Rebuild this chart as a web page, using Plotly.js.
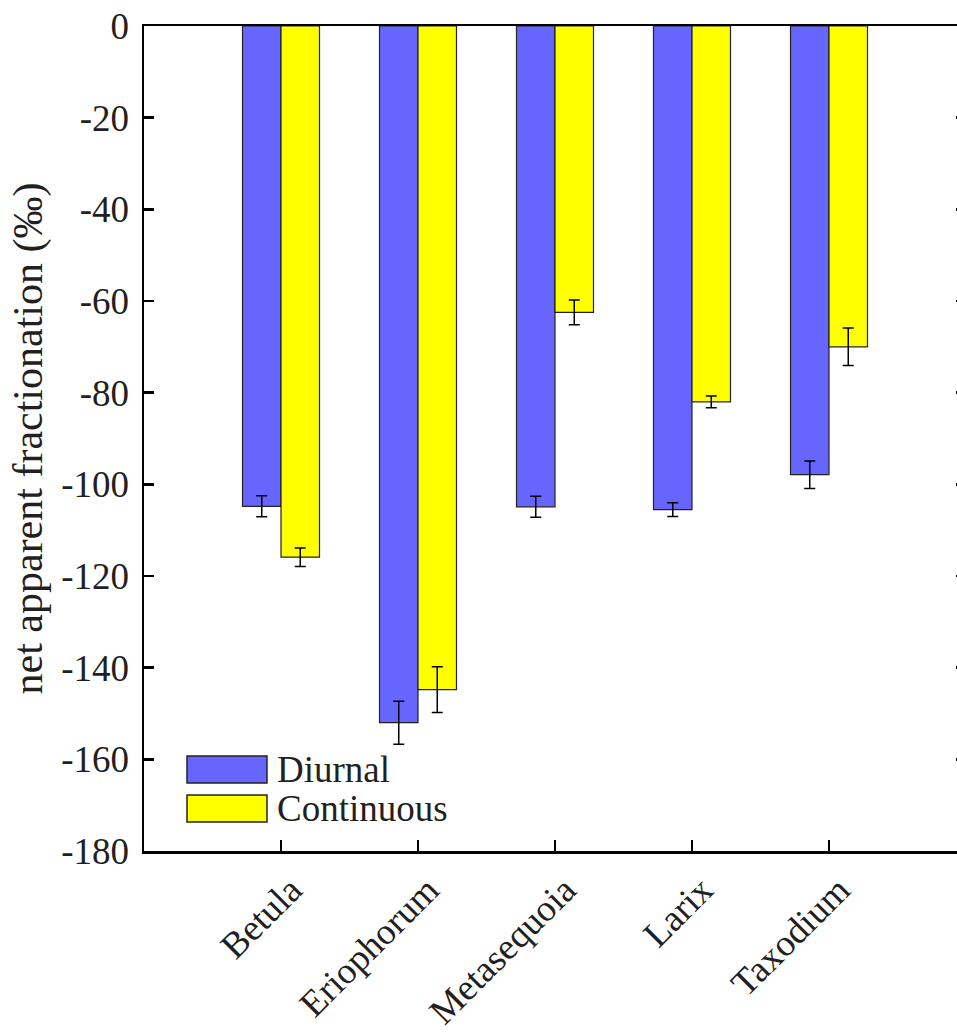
<!DOCTYPE html>
<html>
<head>
<meta charset="utf-8">
<script src="https://cdn.plot.ly/plotly-3.0.1.min.js"></script>
<style>html,body{margin:0;padding:0;overflow:hidden;background:#fff;}</style>
</head>
<body>
<div id="chart"></div>
<script>
var categories = ["Betula", "Eriophorum", "Metasequoia", "Larix", "Taxodium"];
var diurnal = [-104.8, -152.0, -104.9, -105.5, -97.9];
var diurnalErr = [2.3, 4.7, 2.3, 1.5, 3.0];
var continuous = [-115.9, -144.8, -62.5, -82.0, -70.0];
var continuousErr = [2.0, 5.0, 2.7, 1.3, 4.1];
var seriesNames = ["Diurnal", "Continuous"];
var yTicks = [0, -20, -40, -60, -80, -100, -120, -140, -160, -180];

var FONT = "Liberation Serif, Times New Roman, serif";
var TXT = "#231f20";
var FS = 37;

var errStyle = {type: "data", visible: true, color: "#000", thickness: 1.5, width: 5.5};
var traces = [
  {type: "bar", name: seriesNames[0], x: categories, y: diurnal,
   error_y: Object.assign({array: diurnalErr}, errStyle),
   marker: {color: "#6666ff", line: {color: "#222", width: 1.2}}},
  {type: "bar", name: seriesNames[1], x: categories, y: continuous,
   error_y: Object.assign({array: continuousErr}, errStyle),
   marker: {color: "#ffff00", line: {color: "#222", width: 1.2}}}
];

var layout = {
  width: 975, height: 1036,
  margin: {l: 144, r: 9, t: 26, b: 185},
  paper_bgcolor: "#fff", plot_bgcolor: "#fff",
  showlegend: false,
  barmode: "group", bargap: 0.438, bargroupgap: 0,
  font: {family: FONT, color: TXT, size: FS},
  xaxis: {
    type: "category", range: [-1, 5],
    showline: true, linecolor: "#000", linewidth: 2.5, mirror: true,
    ticks: "inside", ticklen: 11, tickwidth: 2.5, tickcolor: "#000",
    tickangle: -45, tickfont: {family: FONT, size: FS, color: TXT},
    ticklabelstandoff: 0, ticklabelshift: 10,
    showgrid: false, zeroline: false
  },
  yaxis: {
    range: [-180, 0], tickvals: yTicks, ticktext: yTicks.map(String),
    showline: true, linecolor: "#000", linewidth: 2.5, mirror: "ticks",
    ticks: "inside", ticklen: 10, tickwidth: 2.5, tickcolor: "#000",
    tickfont: {family: FONT, size: FS, color: TXT},
    ticklabelstandoff: 5,
    showgrid: false, zeroline: false,
    title: {text: "net apparent fractionation (‰)", font: {family: FONT, size: 42, color: TXT}, standoff: 6}
  },
  shapes: [
    {type: "rect", xref: "paper", yref: "paper", x0: 0.0523, x1: 0.1496, y0: 0.0824, y1: 0.1152,
     fillcolor: "#6666ff", line: {color: "#222", width: 1.5}},
    {type: "rect", xref: "paper", yref: "paper", x0: 0.0523, x1: 0.1496, y0: 0.0352, y1: 0.0679,
     fillcolor: "#ffff00", line: {color: "#222", width: 1.5}}
  ],
  annotations: [
    {xref: "paper", yref: "paper", x: 0.1594, y: 0.0982, xanchor: "left", yanchor: "middle",
     text: seriesNames[0], showarrow: false, font: {family: FONT, size: FS, color: TXT}},
    {xref: "paper", yref: "paper", x: 0.1594, y: 0.0521, xanchor: "left", yanchor: "middle",
     text: seriesNames[1], showarrow: false, font: {family: FONT, size: FS, color: TXT}}
  ]
};

Plotly.newPlot("chart", traces, layout, {displayModeBar: false, staticPlot: true});
</script>
</body>
</html>
